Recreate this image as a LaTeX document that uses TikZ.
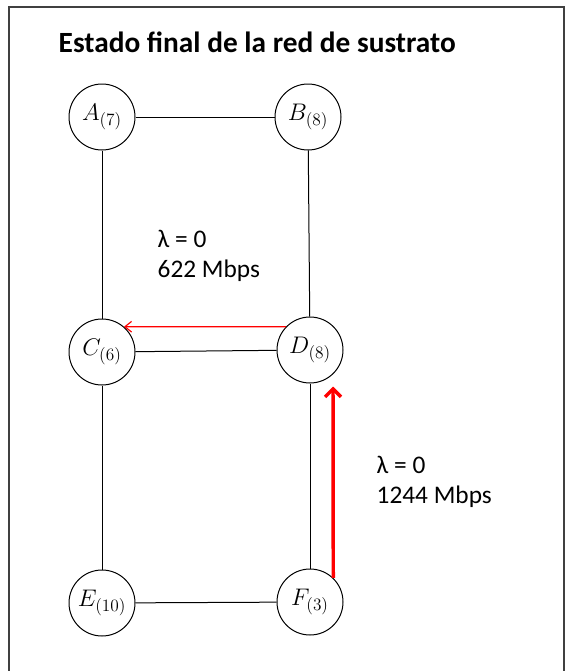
\RequirePackage{fix-cm}
\documentclass[tikz,border=0pt]{standalone}
\usepackage{fontspec}
\setmainfont{Carlito}
\usetikzlibrary{arrows.meta}
\DeclareMathSizes{18}{18}{13}{10}

\begin{document}
\begin{tikzpicture}[
        x=0.75pt, y=-0.75pt,
        nd/.style={circle, draw, line width=0.75pt, minimum size=49.5pt,
                   inner sep=0pt, font=\fontsize{18}{21}\selectfont},
        lnk/.style={line width=0.75pt},
        frm/.style={draw=black!75, line width=1.2pt},
        flow/.style={draw=red, line width=0.9pt,
                     -{Straight Barb[length=5pt, width=8pt]}},
        bigflow/.style={draw=red, line width=2.6pt,
                        -{Straight Barb[length=6pt, width=12pt]}},
        lbl/.style={anchor=base west, align=left,
                    font=\fontsize{19}{22.5}\selectfont},
        ttl/.style={anchor=base west, font=\bfseries\fontsize{22}{26}\selectfont},
    ]
        \useasboundingbox (0,0) rectangle (566,671);

        % frame, open at the bottom
        \draw[frm] (9,671) |- (564,7) -- (564,671);

        \node[ttl] (title) at (54,52) {Estado final de la red de sustrato};

        % substrate nodes
        \node[nd] (A) at (102,117) {$A_{(7)}$};
        \node[nd] (B) at (308,117) {$B_{(8)}$};
        \node[nd] (C) at (102,352) {$C_{(6)}$};
        \node[nd] (D) at (310,350) {$D_{(8)}$};
        \node[nd] (E) at (102,603) {$E_{(10)}$};
        \node[nd] (F) at (310,602) {$F_{(3)}$};

        % substrate links
        \draw[lnk] (A) -- (B);
        \draw[lnk] (A) -- (C);
        \draw[lnk] (B) -- (D);
        \draw[lnk] (C) -- (D);
        \draw[lnk] (C) -- (E);
        \draw[lnk] (D) -- (F);
        \draw[lnk] (E) -- (F);

        % mapped flows
        \draw[flow] (D.136) -- (C.49);
        \coordinate (Dtip) at ([shift={(23,3)}]D.south);
        \draw[bigflow] (F.46) -- (Dtip);

        % flow captions (anchored at the baseline of the last line)
        \node[lbl] (capCD) at (153,277) {λ = 0\\622 Mbps};
        \node[lbl] (capDF) at (372,503) {λ = 0\\1244 Mbps};
    \end{tikzpicture}
\end{document}
